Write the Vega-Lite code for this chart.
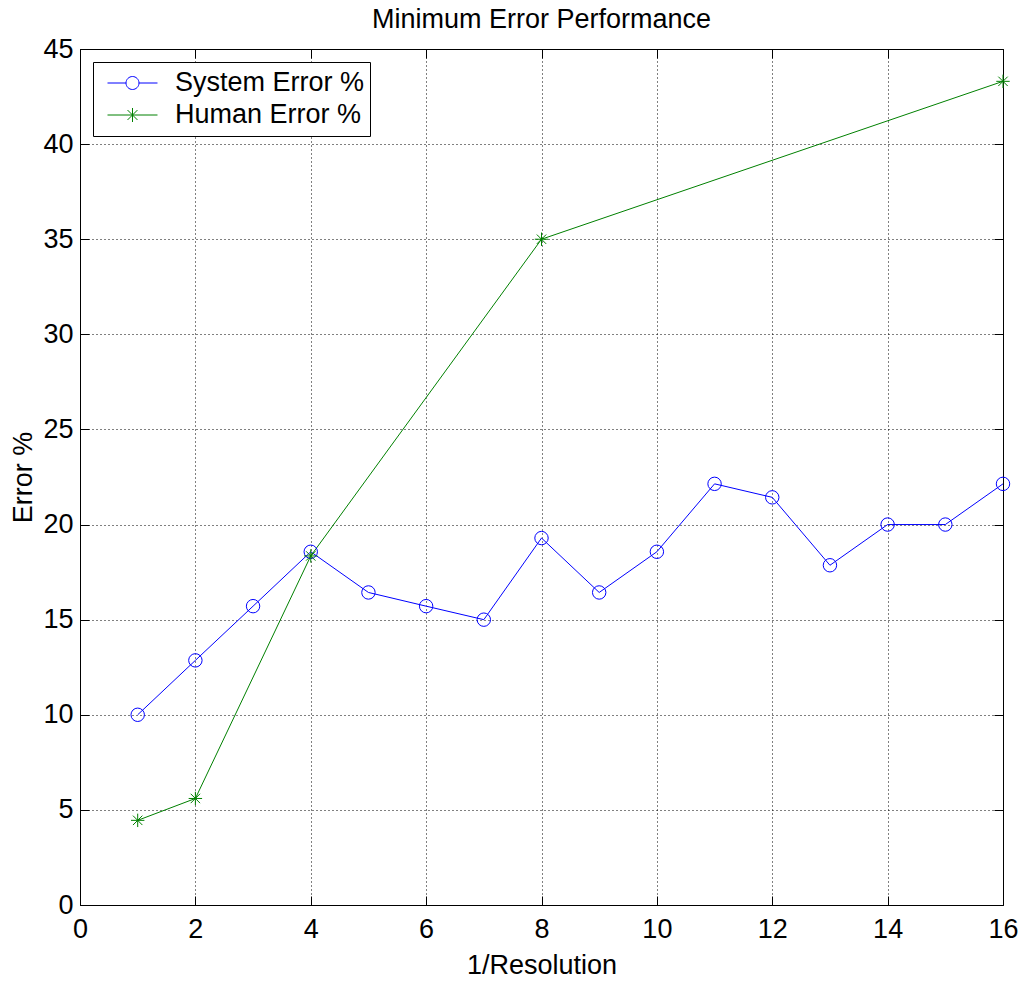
{
  "$schema": "https://vega.github.io/schema/vega-lite/v6.json",
  "width": 923,
  "height": 856,
  "autosize": {"type": "none"},
  "padding": {"left": 80, "top": 49, "right": 18, "bottom": 78},
  "background": "white",
  "title": {"text": "Minimum Error Performance", "font": "Liberation Sans", "fontSize": 27, "fontWeight": "normal", "color": "black", "offset": 1},
  "data": {"values": [
    {"x": 1, "y": 10.0, "series": "System Error %"},
    {"x": 2, "y": 12.86, "series": "System Error %"},
    {"x": 3, "y": 15.71, "series": "System Error %"},
    {"x": 4, "y": 18.57, "series": "System Error %"},
    {"x": 5, "y": 16.43, "series": "System Error %"},
    {"x": 6, "y": 15.71, "series": "System Error %"},
    {"x": 7, "y": 15.0, "series": "System Error %"},
    {"x": 8, "y": 19.29, "series": "System Error %"},
    {"x": 9, "y": 16.43, "series": "System Error %"},
    {"x": 10, "y": 18.57, "series": "System Error %"},
    {"x": 11, "y": 22.14, "series": "System Error %"},
    {"x": 12, "y": 21.43, "series": "System Error %"},
    {"x": 13, "y": 17.86, "series": "System Error %"},
    {"x": 14, "y": 20.0, "series": "System Error %"},
    {"x": 15, "y": 20.0, "series": "System Error %"},
    {"x": 16, "y": 22.14, "series": "System Error %"},
    {"x": 1, "y": 4.45, "series": "Human Error %"},
    {"x": 2, "y": 5.6, "series": "Human Error %"},
    {"x": 4, "y": 18.35, "series": "Human Error %"},
    {"x": 8, "y": 35.0, "series": "Human Error %"},
    {"x": 16, "y": 43.3, "series": "Human Error %"}
  ]},
  "layer": [
    {
      "mark": {"type": "line", "strokeWidth": 1},
      "encoding": {
        "x": {"field": "x", "type": "quantitative", "scale": {"domain": [0, 16], "nice": false, "zero": true},
          "axis": {"orient": "bottom", "title": "1/Resolution", "values": [0,2,4,6,8,10,12,14,16], "grid": true, "domain": false, "tickSize": -9, "labelPadding": 20, "titlePadding": 10, "labelFlush": false, "labelOverlap": false}},
        "y": {"field": "y", "type": "quantitative", "scale": {"domain": [0, 45], "nice": false, "zero": true},
          "axis": {"orient": "left", "title": "Error %", "values": [0,5,10,15,20,25,30,35,40,45], "grid": true, "domain": false, "tickSize": -9, "labelPadding": 16, "titlePadding": 5, "labelFlush": false, "labelOverlap": false}},
        "color": {"field": "series", "type": "nominal", "scale": {"domain": ["System Error %", "Human Error %"], "range": ["#0000ff", "#008000"]}, "legend": null},
        "order": {"field": "x", "type": "quantitative"}
      }
    },
    {
      "mark": {"type": "point", "filled": false, "strokeWidth": 1, "opacity": 1, "size": 180},
      "encoding": {
        "x": {"field": "x", "type": "quantitative", "scale": {"domain": [0, 16], "nice": false, "zero": true},
          "axis": {"orient": "top", "title": null, "values": [0,2,4,6,8,10,12,14,16], "grid": false, "domain": false, "labels": false, "tickSize": -9}},
        "y": {"field": "y", "type": "quantitative", "scale": {"domain": [0, 45], "nice": false, "zero": true},
          "axis": {"orient": "right", "title": null, "values": [0,5,10,15,20,25,30,35,40,45], "grid": false, "domain": false, "labels": false, "tickSize": -9}},
        "color": {"field": "series", "type": "nominal", "scale": {"domain": ["System Error %", "Human Error %"], "range": ["#0000ff", "#008000"]}, "legend": null},
        "shape": {"field": "series", "type": "nominal", "scale": {"domain": ["System Error %", "Human Error %"], "range": ["circle", "M-1,0H1M0,-1V1M-0.7,-0.7L0.7,0.7M-0.7,0.7L0.7,-0.7"]}, "legend": null}
      }
    },
    {
      "transform": [{"filter": "false"}],
      "mark": {"type": "point", "filled": false, "strokeWidth": 1, "opacity": 1},
      "encoding": {
        "x": {"field": "x", "type": "quantitative", "scale": {"domain": [0, 16], "nice": false, "zero": true}, "axis": null},
        "y": {"field": "y", "type": "quantitative", "scale": {"domain": [0, 45], "nice": false, "zero": true}, "axis": null},
        "color": {"field": "series", "type": "nominal", "scale": {"domain": ["System Error %", "Human Error %"], "range": ["#0000ff", "#008000"]},
          "legend": {
            "title": null, "orient": "top-left", "offset": 13, "padding": 5, "strokeColor": "black", "fillColor": "white", "cornerRadius": 0,
            "symbolSize": 4624, "clipHeight": 32, "rowPadding": 0, "symbolStrokeWidth": 1, "symbolOpacity": 1,
            "labelFont": "Liberation Sans", "labelFontSize": 27, "labelColor": "black", "labelOffset": 8, "labelLimit": 1000,
            "labelExpr": "datum.label + '\u00a0\u00a0\u00a0\u00a0\u00a0\u00a0'"
          }},
        "shape": {"field": "series", "type": "nominal", "scale": {"domain": ["System Error %", "Human Error %"], "range": ["M-0.735,0H-0.191M0.191,0H0.735M-0.191,0A0.191,0.191,0,1,1,0.191,0A0.191,0.191,0,1,1,-0.191,0", "M-0.735,0H0.735M0,-0.206V0.206M-0.146,-0.146L0.146,0.146M-0.146,0.146L0.146,-0.146"]},
          "legend": {
            "title": null, "orient": "top-left", "offset": 13, "padding": 5, "strokeColor": "black", "fillColor": "white", "cornerRadius": 0,
            "symbolSize": 4624, "clipHeight": 32, "rowPadding": 0, "symbolStrokeWidth": 1, "symbolOpacity": 1,
            "labelFont": "Liberation Sans", "labelFontSize": 27, "labelColor": "black", "labelOffset": 8, "labelLimit": 1000,
            "labelExpr": "datum.label + '\u00a0\u00a0\u00a0\u00a0\u00a0\u00a0'"
          }}
      }
    }
  ],
  "resolve": {"axis": {"x": "independent", "y": "independent"}, "scale": {"shape": "independent"}, "legend": {"color": "independent", "shape": "independent"}},
  "config": {
    "view": {"stroke": "black", "strokeWidth": 1},
    "font": "Liberation Sans",
    "axis": {
      "labelFont": "Liberation Sans", "labelFontSize": 27, "labelColor": "black",
      "titleFont": "Liberation Sans", "titleFontSize": 27, "titleFontWeight": "normal", "titleColor": "black",
      "tickColor": "black", "tickWidth": 1, "ticks": true,
      "gridColor": "black", "gridOpacity": 1, "gridWidth": 1, "gridDash": [1, 3]
    }
  }
}
